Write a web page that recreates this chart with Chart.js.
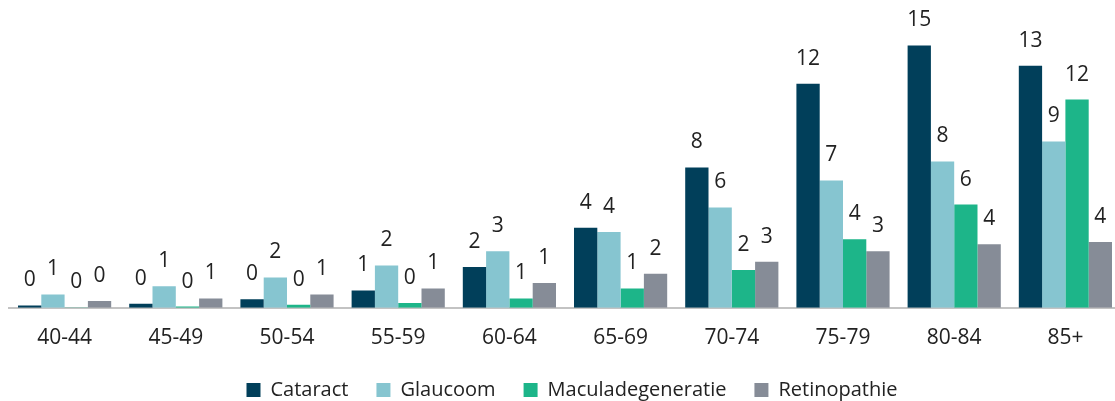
<!DOCTYPE html>
<html>
<head>
<meta charset="utf-8">
<script src="https://cdn.jsdelivr.net/npm/chart.js@4"></script>
<style>
  html, body { margin: 0; padding: 0; background: #fff; overflow: hidden; }
  #wrap { width: 1121px; height: 401px; position: relative; }
</style>
</head>
<body>
<div id="wrap"><canvas id="chart"></canvas></div>
<script>
const categories = ['40-44', '45-49', '50-54', '55-59', '60-64', '65-69', '70-74', '75-79', '80-84', '85+'];
const cataract = [0.13, 0.22, 0.48, 0.96, 2.26, 4.44, 7.78, 12.41, 14.54, 13.41];
const glaucoom = [0.74, 1.2, 1.68, 2.35, 3.14, 4.2, 5.56, 7.06, 8.11, 9.22];
const maculadegeneratie = [0.02, 0.07, 0.17, 0.26, 0.52, 1.07, 2.09, 3.8, 5.72, 11.54];
const retinopathie = [0.37, 0.52, 0.74, 1.07, 1.37, 1.89, 2.55, 3.13, 3.52, 3.65];

const font = '"Open Sans", sans-serif';
const textColor = '#222';

// value labels above each bar, rounded like the original
const valueLabels = {
    id: 'valueLabels',
    afterDatasetsDraw(chart) {
        const ctx = chart.ctx;
        ctx.save();
        ctx.font = '21px ' + font;
        ctx.fillStyle = textColor;
        ctx.textAlign = 'center';
        ctx.textBaseline = 'middle';
        chart.data.datasets.forEach((ds, i) => {
            chart.getDatasetMeta(i).data.forEach((bar, j) => {
                ctx.fillText(Math.round(ds.data[j]), bar.x, bar.y - 25);
            });
        });
        ctx.restore();
    }
};

// move the legend closer to the axis labels and a bit right, as in the original
const legendShift = {
    id: 'legendShift',
    afterLayout(chart) {
        chart.legend.left += 7;
        chart.legend.right += 7;
        chart.legend.top -= 17;
        chart.legend.bottom -= 17;
    }
};

new Chart(document.getElementById('chart'), {
    type: 'bar',
    data: {
        labels: categories,
        datasets: [
            { label: 'Cataract', data: cataract, backgroundColor: '#013f5a' },
            { label: 'Glaucoom', data: glaucoom, backgroundColor: '#86c5d0' },
            { label: 'Maculadegeneratie', data: maculadegeneratie, backgroundColor: '#1db589' },
            { label: 'Retinopathie', data: retinopathie, backgroundColor: '#868c97' }
        ]
    },
    options: {
        responsive: true, maintainAspectRatio: false, animation: false,
        datasets: { bar: { barPercentage: 1.0, categoryPercentage: 0.838 } },
        layout: { padding: { left: 9, right: 0, top: 10, bottom: -26 } },
        scales: {
            x: {
                grid: { display: false, drawTicks: false },
                border: { display: true, color: '#c3c3c3', width: 2 },
                ticks: { color: textColor, font: { family: font, size: 21 }, padding: 18 }
            },
            y: { display: false, min: 0, max: 16.5 }
        },
        plugins: {
            legend: {
                position: 'bottom',
                labels: { color: textColor, font: { family: font, size: 20 }, boxWidth: 14, boxHeight: 14, padding: 28 }
            },
            tooltip: { enabled: false }
        }
    },
    plugins: [valueLabels, legendShift]
});
</script>
</body>
</html>
